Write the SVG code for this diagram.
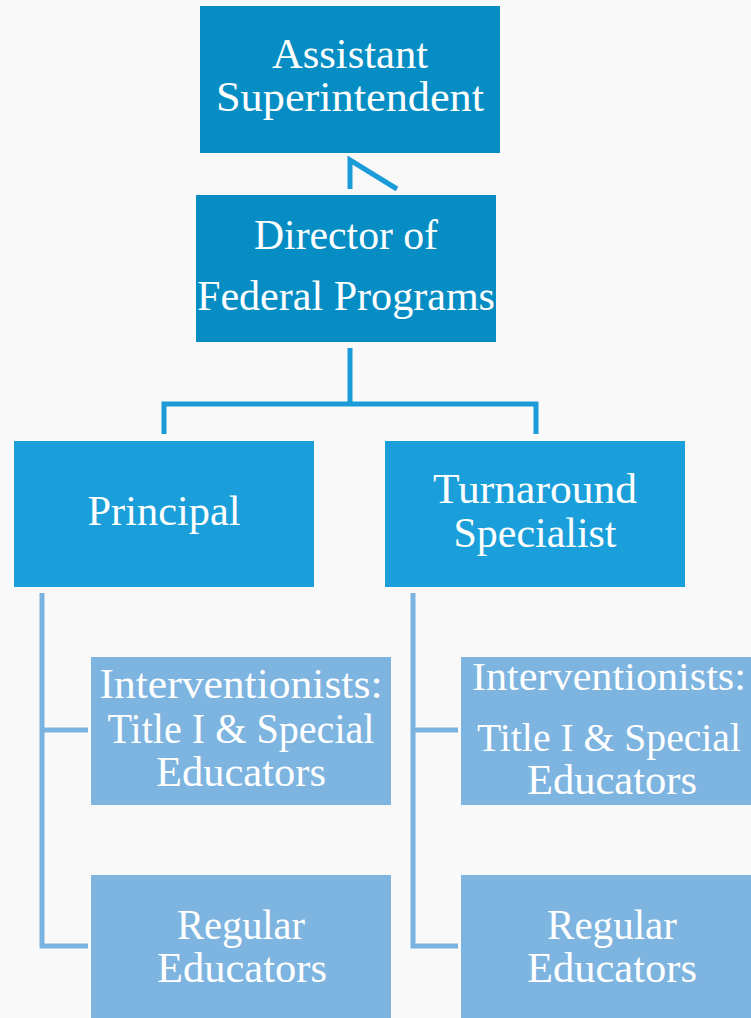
<svg xmlns="http://www.w3.org/2000/svg" width="751" height="1018" viewBox="0 0 751 1018">
<style>
.t{font-family:"Liberation Serif","DejaVu Serif",serif;font-size:42px;fill:#ffffff;text-anchor:middle}
.s{font-size:40px}
.dark{fill:#068ec4}
.mid{fill:#1b9fda}
.light{fill:#7db4e0}
.c1{fill:none;stroke:#1b9bd8;stroke-width:5}
.c2{fill:none;stroke:#7ab3e0;stroke-width:5}
</style>
<rect width="751" height="1018" fill="#f9f9f9"/>
<g id="connectors">
<path class="c1" d="M350,189 L350,160 L397,189"/>
<path class="c1" d="M350,348 L350,404 M164,434 L164,404 L536,404 L536,434"/>
<path class="c2" d="M42,593 L42,946 L88,946 M42,730 L88,730"/>
<path class="c2" d="M413,593 L413,946 L458,946 M413,730 L458,730"/>
</g>
<g id="assistant-superintendent">
<rect class="dark" x="200" y="6" width="300" height="147"/>
<text class="t" x="350" y="68" textLength="156" lengthAdjust="spacingAndGlyphs">Assistant</text>
<text class="t" x="350" y="111" textLength="268" lengthAdjust="spacingAndGlyphs">Superintendent</text>
</g>
<g id="director">
<rect class="dark" x="196" y="195" width="300" height="147"/>
<text class="t" x="346" y="249" textLength="184" lengthAdjust="spacingAndGlyphs">Director of</text>
<text class="t" x="346" y="310" textLength="298" lengthAdjust="spacingAndGlyphs">Federal Programs</text>
</g>
<g id="principal">
<rect class="mid" x="14" y="441" width="300" height="146"/>
<text class="t" x="164" y="525" textLength="153" lengthAdjust="spacingAndGlyphs">Principal</text>
</g>
<g id="turnaround">
<rect class="mid" x="385" y="441" width="300" height="146"/>
<text class="t" x="535" y="503" textLength="204" lengthAdjust="spacingAndGlyphs">Turnaround</text>
<text class="t" x="535" y="547" textLength="163" lengthAdjust="spacingAndGlyphs">Specialist</text>
</g>
<g id="interventionists-left">
<rect class="light" x="91" y="657" width="300" height="148"/>
<text class="t" x="241" y="698" textLength="283" lengthAdjust="spacingAndGlyphs">Interventionists:</text>
<text class="t" x="241" y="743" textLength="267" lengthAdjust="spacingAndGlyphs">Title I &amp; Special</text>
<text class="t" x="241" y="786" textLength="170" lengthAdjust="spacingAndGlyphs">Educators</text>
</g>
<g id="interventionists-right">
<rect class="light" x="461" y="657" width="290" height="148"/>
<text class="t s" x="609" y="690" textLength="274" lengthAdjust="spacingAndGlyphs">Interventionists:</text>
<text class="t s" x="609" y="751" textLength="264" lengthAdjust="spacingAndGlyphs">Title I &amp; Special</text>
<text class="t" x="612" y="794" textLength="170" lengthAdjust="spacingAndGlyphs">Educators</text>
</g>
<g id="regular-left">
<rect class="light" x="91" y="875" width="300" height="143"/>
<text class="t" x="241" y="939" textLength="128" lengthAdjust="spacingAndGlyphs">Regular</text>
<text class="t" x="242" y="982" textLength="170" lengthAdjust="spacingAndGlyphs">Educators</text>
</g>
<g id="regular-right">
<rect class="light" x="461" y="875" width="290" height="143"/>
<text class="t" x="612" y="939" textLength="130" lengthAdjust="spacingAndGlyphs">Regular</text>
<text class="t" x="612" y="982" textLength="170" lengthAdjust="spacingAndGlyphs">Educators</text>
</g>
</svg>
